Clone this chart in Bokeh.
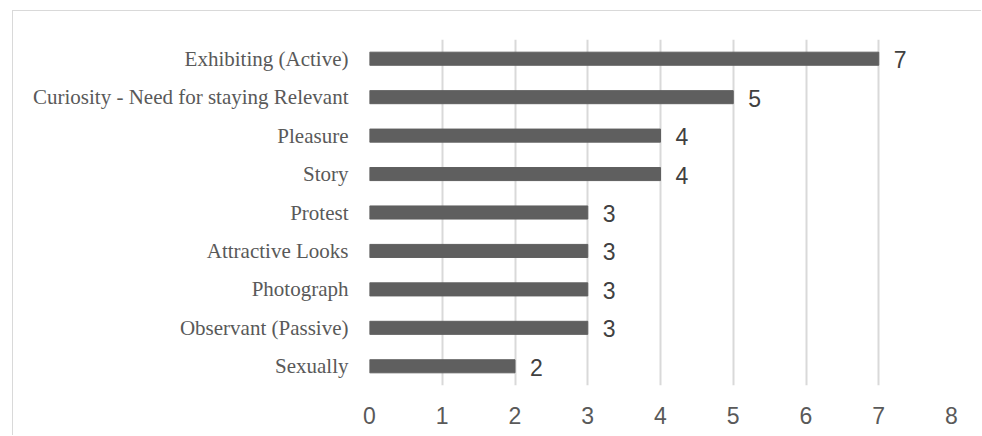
from bokeh.plotting import figure
from bokeh.models import ColumnDataSource, FactorRange, Range1d, FixedTicker
from bokeh.core.properties import value
from bokeh.embed import file_html
from bokeh.resources import INLINE

categories = ["Exhibiting (Active)", "Curiosity - Need for staying Relevant", "Pleasure", "Story",
              "Protest", "Attractive Looks", "Photograph", "Observant (Passive)", "Sexually"]
counts = [7, 5, 4, 4, 3, 3, 3, 3, 2]
x_ticks = [0, 1, 2, 3, 4, 5, 6, 7, 8]

src = ColumnDataSource(dict(cat=categories, val=counts, lab=[str(v) for v in counts]))

p = figure(width=969, height=425, output_backend="svg", toolbar_location=None,
           y_range=FactorRange(factors=list(reversed(categories)), range_padding=0),
           x_range=Range1d(0, 8),
           min_border_left=356, min_border_right=31, min_border_top=28, min_border_bottom=51)
p.styles = {"border-top": "1px solid #d9d9d9", "border-left": "1px solid #d9d9d9",
            "margin-left": "12px", "margin-top": "10px"}
p.outline_line_color = None

p.hbar(y="cat", right="val", left=0, height=0.34, source=src, color="#5f5f5f")
p.text(x="val", y="cat", text="lab", source=src, x_offset=15, y_offset=1, text_align="left",
       text_baseline="middle", text_font=value("Liberation Sans"), text_font_size="23px",
       text_color="#404040")

p.xaxis.ticker = FixedTicker(ticks=x_ticks)
p.xaxis.axis_line_color = None
p.xaxis.major_tick_line_color = None
p.xaxis.minor_tick_line_color = None
p.xaxis.major_label_standoff = 15
p.xaxis.major_label_text_font = "Liberation Sans"
p.xaxis.major_label_text_font_size = "23px"
p.xaxis.major_label_text_color = "#595959"

p.yaxis.axis_line_color = None
p.yaxis.major_tick_line_color = None
p.yaxis.minor_tick_line_color = None
p.yaxis.major_label_standoff = 15
p.yaxis.major_label_text_font = "Liberation Serif"
p.yaxis.major_label_text_font_size = "21px"
p.yaxis.major_label_text_color = "#595959"

p.xgrid.grid_line_color = "#d9d9d9"
p.xgrid.grid_line_width = 2
p.ygrid.grid_line_color = None

open("out.html", "w").write(file_html(p, INLINE))
